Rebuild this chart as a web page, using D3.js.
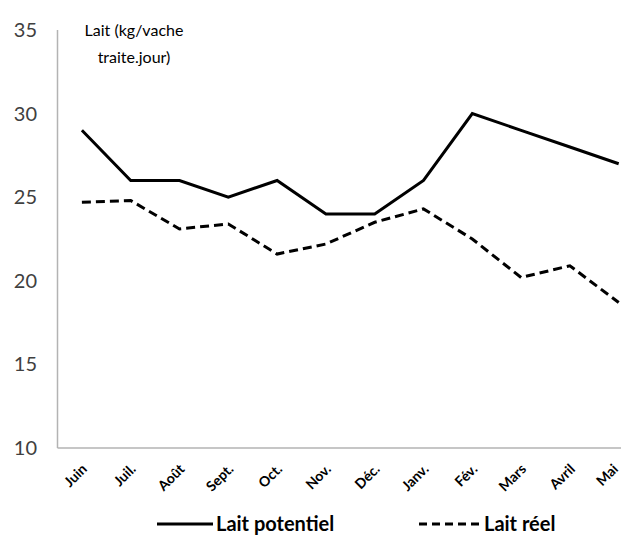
<!DOCTYPE html>
<html><head><meta charset="utf-8">
<script src="https://cdn.jsdelivr.net/npm/d3@7"></script>
<style>body{margin:0;background:#fff}svg{display:block}</style>
</head><body>
<svg id="c" width="621" height="536"></svg>
<script>
const months = ["Juin","Juil.","Août","Sept.","Oct.","Nov.","Déc.","Janv.","Fév.","Mars","Avril","Mai"];
const laitPotentiel = [29,26,26,25,26,24,24,26,30,29,28,27];
const laitReel = [24.7,24.8,23.1,23.4,21.6,22.2,23.5,24.3,22.5,20.2,20.9,18.7];
const yTicks = [10,15,20,25,30,35];
const seriesNames = ["Lait potentiel","Lait réel"];

const svg = d3.select("#c");
const font = "Lato, 'Open Sans', sans-serif";
const x = d3.scaleBand().domain(months).range([57.5, 57.5 + 12*48.8]);
const y = d3.scaleLinear().domain([10,35]).range([448, 30]);
const cx = d => x(d) + x.bandwidth()/2;

// axes lines
svg.append("line").attr("x1",57.5).attr("x2",57.5).attr("y1",y(35)).attr("y2",y(10))
  .attr("stroke","#b3b3b3").attr("stroke-width",1.5);
svg.append("line").attr("x1",57.5).attr("x2",621).attr("y1",y(10)).attr("y2",y(10))
  .attr("stroke","#b3b3b3").attr("stroke-width",1.5);

// y tick labels
svg.selectAll(".yt").data(yTicks).enter().append("text")
  .attr("x",37).attr("y",d=>y(d)+7).attr("text-anchor","end")
  .attr("font-family",font).attr("font-size",20).attr("fill","#404040").text(d=>d);

// axis title
const t = svg.append("text").attr("font-family",font).attr("font-size",16).attr("fill","#000").attr("text-anchor","middle");
t.append("tspan").attr("x",134).attr("y",36).text("Lait (kg/vache");
t.append("tspan").attr("x",134).attr("y",63).text("traite.jour)");

// x labels
svg.selectAll(".xt").data(months).enter().append("text")
  .attr("transform",d=>`translate(${Math.min(cx(d)+6, 619)},${470}) rotate(-45)`)
  .attr("text-anchor","end").attr("font-family",font).attr("font-weight","bold")
  .attr("font-size",14).attr("fill","#000").text(d=>d);

const line = d3.line().x((d,i)=>cx(months[i])).y(d=>y(d));
svg.append("path").attr("d",line(laitPotentiel)).attr("fill","none").attr("stroke","#000").attr("stroke-width",3);
svg.append("path").attr("d",line(laitReel)).attr("fill","none").attr("stroke","#000").attr("stroke-width",3).attr("stroke-dasharray","9,5");

// legend
svg.append("line").attr("x1",157).attr("x2",213).attr("y1",524).attr("y2",524).attr("stroke","#000").attr("stroke-width",3);
svg.append("text").attr("x",216).attr("y",531).attr("font-family",font).attr("font-weight","bold").attr("font-size",20).text(seriesNames[0]);
svg.append("line").attr("x1",419).attr("x2",481).attr("y1",524).attr("y2",524).attr("stroke","#000").attr("stroke-width",3).attr("stroke-dasharray","8,5");
svg.append("text").attr("x",484).attr("y",531).attr("font-family",font).attr("font-weight","bold").attr("font-size",20).text(seriesNames[1]);
</script>
</body></html>
